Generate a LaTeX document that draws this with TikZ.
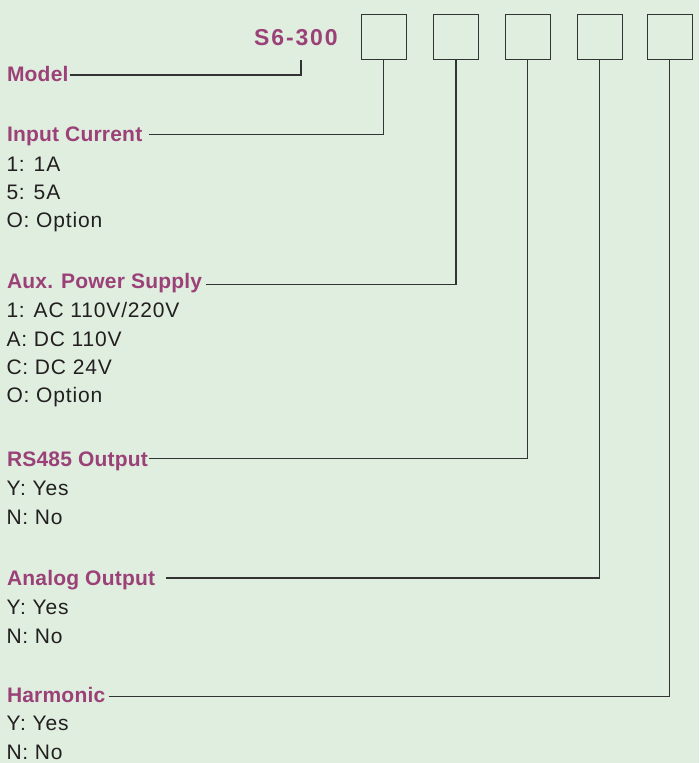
\documentclass[tikz,border=0pt]{standalone}
\usepackage{fontspec}
\setmainfont{Liberation Sans}
\newfontfamily\hfont[LetterSpace=1]{Liberation Sans}
\newfontfamily\rfont[LetterSpace=4]{Liberation Sans}
\newfontfamily\tfont[LetterSpace=8]{Liberation Sans}
\definecolor{bgc}{HTML}{DFEEDF}
\definecolor{mag}{HTML}{9B4178}
\definecolor{txt}{HTML}{231F20}
\definecolor{lnc}{HTML}{333333}
\tikzset{
  head/.style={anchor=base west, inner sep=0pt, text=mag, font=\hfont\bfseries\fontsize{21}{25}\selectfont},
  item/.style={anchor=base west, inner sep=0pt, text=txt, font=\rfont\fontsize{21}{25}\selectfont},
  title/.style={anchor=base west, inner sep=0pt, text=mag, font=\tfont\bfseries\fontsize{23}{27}\selectfont},
  codebox/.style={draw=lnc, line width=1.2pt, minimum size=45pt, inner sep=0pt},
  conn/.style={draw=lnc, line width=1.1pt}
}
\begin{document}
\begin{tikzpicture}[x=1pt,y=-1pt]
\fill[bgc] (0,0) rectangle (699,763);
\useasboundingbox (0,0) rectangle (699,763);
% title and boxes
\node[title] (s6) at (254,45.7) {S6-300};
\coordinate (s6end) at (301,60);
\node[codebox] (b1) at (383.7,37.2) {};
\node[codebox] (b2) at (456,37.2) {};
\node[codebox] (b3) at (527.7,37.2) {};
\node[codebox] (b4) at (599.8,37.2) {};
\node[codebox] (b5) at (669.8,37.2) {};
% Model
\node[head] (hModel) at (6.8,81) {Model};
% Input current
\node[head] (hIn) at (6.8,141.7) {Input Current};
\node[item] (in1) at (6.3,171) {1: 1A};
\node[item] (in2) at (6.3,199.3) {5: 5A};
\node[item] (in3) at (6.3,227.7) {O: Option};
% Aux power
\node[head] (hAux) at (6.8,288.3) {Aux. Power Supply};
\node[item] (ax1) at (6.3,317.3) {1: AC 110V/220V};
\node[item] (ax2) at (6.3,346) {A: DC 110V};
\node[item] (ax3) at (6.3,374.3) {C: DC 24V};
\node[item] (ax4) at (6.3,402.7) {O: Option};
% RS485
\node[head] (hRS) at (6.8,466.7) {RS485 Output};
\node[item] (rs1) at (6.3,495.7) {Y: Yes};
\node[item] (rs2) at (6.3,524.3) {N: No};
% Analog
\node[head] (hAn) at (6.8,585) {Analog Output};
\node[item] (an1) at (6.3,614.3) {Y: Yes};
\node[item] (an2) at (6.3,643.3) {N: No};
% Harmonic
\node[head] (hHa) at (6.8,702.3) {Harmonic};
\node[item] (ha1) at (6.3,730.7) {Y: Yes};
\node[item] (ha2) at (6.3,759.3) {N: No};
% connectors
\draw[conn] ([xshift=1pt,yshift=6pt]hModel.base east) -| (s6end);
\draw[conn] ([xshift=6.5pt,yshift=7.4pt]hIn.base east) -| (b1.south);
\draw[conn] ([xshift=3.5pt,yshift=4pt]hAux.base east) -| (b2.south);
\draw[conn] ([xshift=1pt,yshift=8pt]hRS.base east) -| (b3.south);
\draw[conn] ([xshift=10.5pt,yshift=7pt]hAn.base east) -| (b4.south);
\draw[conn] ([xshift=3pt,yshift=5.6pt]hHa.base east) -| (b5.south);
\end{tikzpicture}
\end{document}
